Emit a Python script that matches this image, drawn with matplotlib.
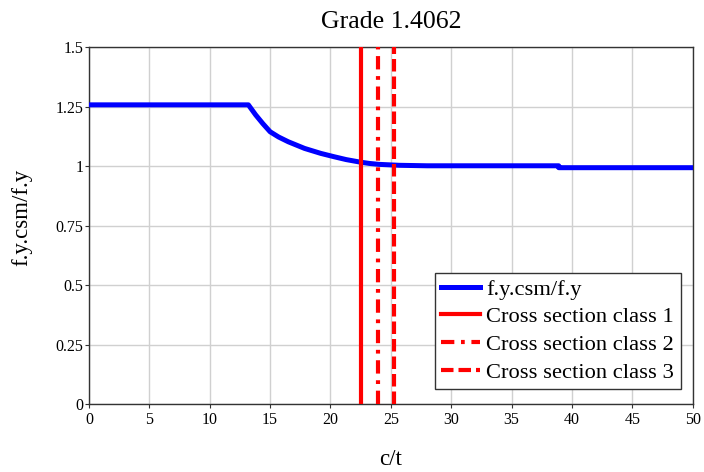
import numpy as np
import matplotlib
matplotlib.use("Agg")
import matplotlib.pyplot as plt

plt.rcParams.update({
    'font.family': ['Liberation Serif', 'DejaVu Serif'],
    'font.size': 11,
})

# f.y.csm/f.y
ct = [0, 13.2, 13.8, 14.4, 15, 15.7, 16.5, 17.85, 19.2, 20.3, 21.3, 22.5, 23.2, 24,
      25.7, 28, 38.9, 38.9, 50]
ratio = [1.257, 1.257, 1.215, 1.178, 1.144, 1.122, 1.102, 1.074, 1.053, 1.039,
         1.027, 1.016, 1.011, 1.007, 1.003, 1.001, 1.001, 0.993, 0.993]

# cross section class limits (c/t)
class_limits = [22.54, 23.90, 25.27]
class_labels = ["Cross section class 1", "Cross section class 2", "Cross section class 3"]
class_styles = ['-', (0, (3.2, 1.6, 0.9, 1.6)), (0, (3, 1.2))]

xticks = np.arange(0, 51, 5)
yticks = [0, 0.25, 0.5, 0.75, 1, 1.25, 1.5]
ytick_labels = ["0", "0.25", "0.5", "0.75", "1", "1.25", "1.5"]

fig = plt.figure(figsize=(7.04, 4.72), dpi=100)
ax = fig.add_axes((0.1264, 0.144, 0.8576, 0.7564))

ax.plot(ct, ratio, color='#0000ff', lw=3.6, label="f.y.csm/f.y", zorder=3)
for xv, lab, ls in zip(class_limits, class_labels, class_styles):
    ax.axvline(xv, color='#ff0000', lw=3.0, linestyle=ls, label=lab, zorder=4)

ax.set_xlim(0, 50)
ax.set_ylim(0, 1.5)
ax.set_xticks(xticks)
ax.set_yticks(yticks)
ax.set_yticklabels(ytick_labels)
ax.grid(True, color='#d0d0d0', lw=1.0)
ax.set_axisbelow(True)
ax.tick_params(direction='out', length=3, width=0.8, labelsize=11.5, pad=1, colors='#333333')
ax.tick_params(axis='x', pad=3, labelcolor='black')
ax.tick_params(axis='y', labelcolor='black')
for s in ax.spines.values():
    s.set_color('#333333')
    s.set_linewidth(1.0)

ax.set_title("Grade 1.4062", fontsize=18.5, pad=14)
ax.set_xlabel("c/t", fontsize=16.5, labelpad=15)
ax.set_ylabel("f.y.csm/f.y", fontsize=16.5, labelpad=17, y=0.524)

leg = ax.legend(loc='lower right', bbox_to_anchor=(0.980, 0.042), fontsize=16.2,
                frameon=True, fancybox=False, handlelength=1.69, handletextpad=0.31,
                borderpad=0.28, labelspacing=0.31, borderaxespad=0)
leg.get_frame().set_edgecolor('#333333')
leg.get_frame().set_linewidth(1.0)
leg.get_frame().set_alpha(1)

fig.savefig("out.png", dpi=100)
